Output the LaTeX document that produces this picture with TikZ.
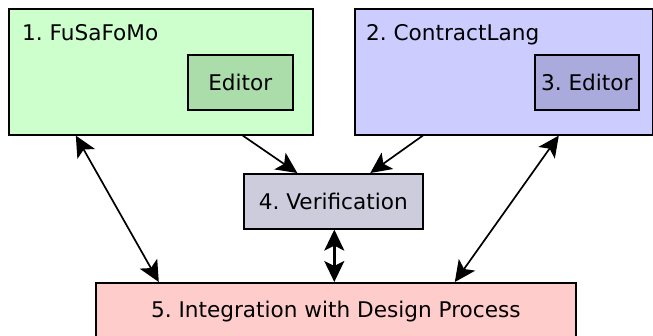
\documentclass[tikz,border=0pt]{standalone}
\usepackage{fontspec}
\setmainfont{DejaVu Sans}
\usetikzlibrary{arrows.meta}
\definecolor{fusafill}{HTML}{CCFFCC}
\definecolor{fusaedit}{HTML}{AADDAA}
\definecolor{contractfill}{HTML}{CCCCFF}
\definecolor{contractedit}{HTML}{AAAADD}
\definecolor{verifill}{HTML}{CCCCDD}
\definecolor{integfill}{HTML}{FFCCCC}
\frenchspacing
\begin{document}
\begin{tikzpicture}[x=1pt,y=-1pt,
  font=\fontsize{21.6}{26}\selectfont,
  box/.style={draw=black, line width=1.6pt, rectangle, inner sep=0pt, anchor=north west},
  label/.style={anchor=base west, inner sep=0pt},
  link/.style={line width=1.7pt, -{Stealth[length=21pt,width=20pt,inset=5pt]}},
  biglink/.style={line width=1.7pt, {Stealth[length=21pt,width=20pt,inset=5pt]}-{Stealth[length=21pt,width=20pt,inset=5pt]}},
  thicklink/.style={line width=2.4pt, {Stealth[length=21pt,width=20pt,inset=5pt]}-{Stealth[length=21pt,width=20pt,inset=5pt]}}]
\useasboundingbox (0,0) rectangle (653,335);

% component boxes
\node[box, fill=fusafill, minimum width=304pt, minimum height=126pt] (fusa) at (8,8) {};
\node[label] (fusalabel) at (22,40) {1. FuSaFoMo};
\node[box, fill=fusaedit, minimum width=105pt, minimum height=55pt] (fusaeditor) at (187,54) {Editor};

\node[box, fill=contractfill, minimum width=298pt, minimum height=126pt] (contract) at (354,8) {};
\node[label] (contractlabel) at (366,40) {2. ContractLang};
\node[box, fill=contractedit, minimum width=104pt, minimum height=55pt] (contracteditor) at (534,54) {3. Editor};

\node[box, fill=verifill, minimum width=179pt, minimum height=55pt] (verif) at (243,173) {4. Verification};

\node[box, fill=integfill, minimum width=480pt, minimum height=57pt] (integ) at (95,282) {5. Integration with Design Process};

% connectors
\draw[link] ([xshift=82pt]fusa.south) -- ([xshift=-36pt]verif.north);
\draw[link] ([xshift=-81pt]contract.south) -- ([xshift=37pt]verif.north);
\draw[biglink] ([xshift=-85pt]fusa.south) -- ([xshift=-177pt]integ.north);
\draw[biglink] ([xshift=55pt]contract.south) -- ([xshift=119pt]integ.north);
\draw[thicklink] ([xshift=1pt]verif.south) -- ([xshift=1pt]verif.south |- integ.north);
\end{tikzpicture}
\end{document}
